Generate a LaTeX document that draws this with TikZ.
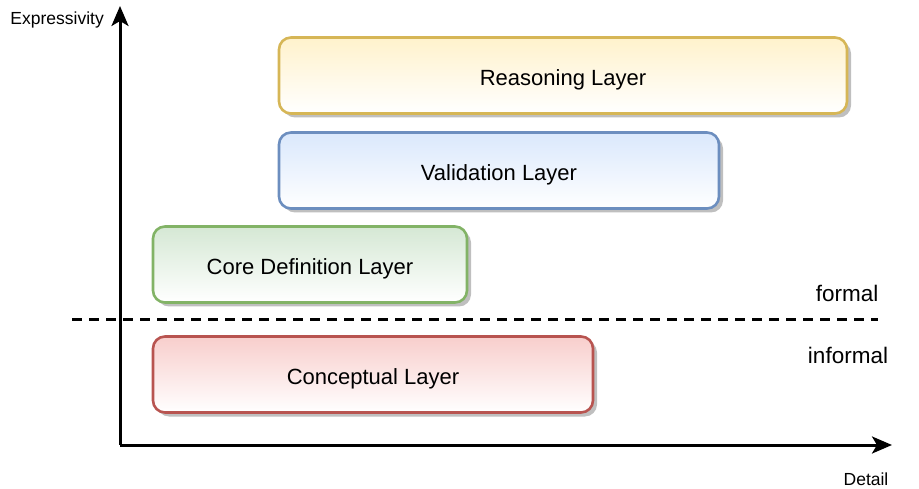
\documentclass[tikz,border=0pt]{standalone}
\usepackage{fontspec}
\setmainfont{Liberation Sans}
\usetikzlibrary{arrows.meta,shadows}
\definecolor{yelfill}{HTML}{FFF2CC}
\definecolor{yelline}{HTML}{D6B656}
\definecolor{bluefill}{HTML}{DAE8FC}
\definecolor{blueline}{HTML}{6C8EBF}
\definecolor{grnfill}{HTML}{D5E8D4}
\definecolor{grnline}{HTML}{82B366}
\definecolor{redfill}{HTML}{F8CECC}
\definecolor{redline}{HTML}{B85450}
\tikzset{
  layer/.style={rounded corners=12pt, line width=2.6pt, bottom color=white,
    minimum height=76pt, inner sep=0pt, text height=24pt, font=\fontsize{22}{26}\selectfont,
    drop shadow={shadow xshift=4pt, shadow yshift=-4pt, fill=black!25, opacity=1}},
  axis/.style={line width=3pt, -{Stealth[length=20pt,width=17pt,inset=5pt]}},
  lbl/.style={font=\fontsize{22.5}{26}\selectfont},
  small/.style={font=\fontsize{17.5}{20}\selectfont},
}
\begin{document}
\begin{tikzpicture}[x=1pt, y=-1pt]
		\useasboundingbox (0,0) rectangle (919,489);
		\coordinate (origin) at (120,445);
		\coordinate (ytop) at (120,6);
		\coordinate (xend) at (892,445);
		\coordinate (dashL) at (72,320);
		\coordinate (dashR) at (878,320);
		\draw[axis] (origin) -- (ytop);
		\draw[axis] (origin) -- (xend);
		\draw[line width=3pt, dash pattern=on 10pt off 7pt] (dashL) -- (dashR);
		\node[layer, draw=yelline, top color=yelfill, minimum width=568pt] (reason) at (563,75.5) {Reasoning Layer};
		\node[layer, draw=blueline, top color=bluefill, minimum width=440pt] (valid) at (499,170.5) {Validation Layer};
		\node[layer, draw=grnline, top color=grnfill, minimum width=314pt] (core) at (310,264.5) {Core Definition Layer};
		\node[layer, draw=redline, top color=redfill, minimum width=440pt] (concept) at (373,374.5) {Conceptual Layer};
		\node[small, anchor=east, inner sep=0pt] (expr) at (104,20) {Expressivity};
		\node[small, inner sep=0pt] (detail) at (866,479) {Detail};
		\node[lbl] (formal) at (847,293) {formal};
		\node[lbl] (informal) at (848,355) {informal};
\end{tikzpicture}
\end{document}
